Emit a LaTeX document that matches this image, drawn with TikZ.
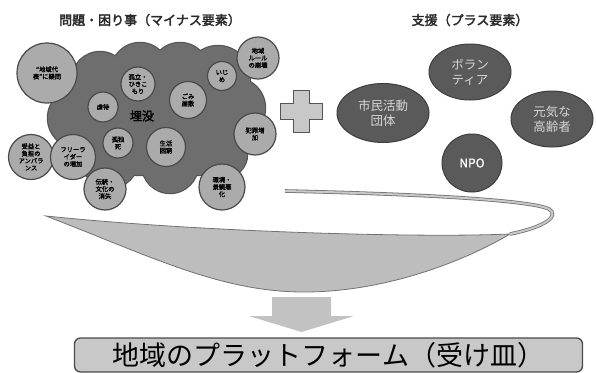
\documentclass[tikz,border=0pt]{standalone}
\usepackage{fontspec}
\setmainfont{Noto Sans CJK JP}
\newfontfamily\jpb[FakeBold=1.5]{Noto Sans CJK JP}
\newfontfamily\jpbb[FakeBold=2.5]{Noto Sans CJK JP}
\usetikzlibrary{shapes.geometric}
\definecolor{blob}{HTML}{6E6E6E}
\definecolor{blobline}{HTML}{555555}
\definecolor{issuefill}{HTML}{ABABAB}
\definecolor{issueline}{HTML}{4A4A4A}
\definecolor{ellfill}{HTML}{5A5A5A}
\definecolor{ellline}{HTML}{3E3E3E}
\definecolor{elltext}{HTML}{D6D6D6}
\definecolor{bowlfill}{HTML}{BDBDBD}
\definecolor{bowlline}{HTML}{727272}
\definecolor{boxfill}{HTML}{C8C8C8}
\definecolor{arrowfill}{HTML}{C2C2C2}
\definecolor{titlecol}{HTML}{2A2A2A}
\tikzset{
  issue/.style={circle, fill=issuefill, draw=issueline, line width=1.2pt,
    minimum size=#1, inner sep=0pt, align=center,
    font=\jpb\fontsize{6.3}{7.2}\selectfont},
  support/.style={ellipse, fill=ellfill, draw=ellline, line width=1pt,
    inner sep=0pt, align=center, text=elltext,
    font=\fontsize{12.5}{15}\selectfont},
  title/.style={text=titlecol, font=\jpbb\fontsize{13}{15}\selectfont}
}
\begin{document}
\begin{tikzpicture}[x=1pt,y=-1pt]
\useasboundingbox (0,0) rectangle (596,372);
\fill[white] (0,0) rectangle (596,372);

% titles
\node[title] (tminus) at (150,20) {問題・困り事（マイナス要素）};
\node[title] (tplus) at (470,20) {支援（プラス要素）};

% dark blob
\def\blobcircles{100/80/28, 140/72/29, 180/72/29, 218/78/32, 235/108/30,
  78/118/30, 140/125/50, 200/130/45, 170/165/28, 110/160/28, 225/155/22}
\foreach \x/\y/\r in \blobcircles \fill[blobline] (\x,\y) circle (\r pt+1.2pt);
\foreach \x/\y/\r in \blobcircles \fill[blob] (\x,\y) circle (\r pt);
\node[fill=blob, minimum size=7pt, inner sep=0pt] (sq) at (52,159) {};

\node[font=\jpbb\fontsize{12}{14}\selectfont] (maibotsu) at (142,116) {埋没};

% issue circles
\node[issue=60pt] (c1) at (47,73) {“地域代\\表”に疑問};
\node[issue=34pt] (c2) at (138,84) {孤立・\\ひきこ\\もり};
\node[issue=29pt] (c3) at (222,76) {いじ\\め};
\node[issue=42pt] (c4) at (258,58) {地域\\ルール\\の崩壊};
\node[issue=30pt] (c5) at (103,107) {虐待};
\node[issue=37pt] (c6) at (188,100) {ごみ\\屋敷};
\node[issue=30pt] (c7) at (118,143) {孤独\\死};
\node[issue=39pt] (c8) at (166,147) {生活\\困窮};
\node[issue=42pt] (c9) at (255,134) {犯罪増\\加};
\node[issue=45pt] (c10) at (31,157) {受益と\\負担の\\アンバラ\\ンス};
\node[issue=45pt] (c11) at (73,157) {フリーラ\\イダー\\の増加};
\node[issue=42pt] (c12) at (105,189) {伝統・\\文化の\\消失};
\node[issue=46pt] (c13) at (222,187) {環境・\\景観悪\\化};

% plus sign
\filldraw[fill=boxfill, draw=blobline, line width=1pt]
  (293,90) -- (309,90) -- (309,103) -- (322,103) -- (322,119) -- (309,119)
  -- (309,132) -- (293,132) -- (293,119) -- (280,119) -- (280,103) -- (293,103) -- cycle;

% support ellipses
\node[support, minimum width=92pt, minimum height=59pt] (s1) at (383,113) {市民活動\\団体};
\node[support, minimum width=82pt, minimum height=56pt] (s2) at (470,72) {ボラン\\ティア};
\node[support, minimum width=82pt, minimum height=56pt] (s3) at (552,119) {元気な\\高齢者};
\node[support, minimum width=60pt, minimum height=58pt, text=white,
  font=\jpb\fontsize{12}{14}\selectfont] (s4) at (472,163) {NPO};

% funnel bowl
\filldraw[fill=bowlfill, draw=bowlline, line width=0.8pt]
  (46,216) .. controls (200,232) and (420,238) .. (510,234)
  .. controls (470,258) and (390,292) .. (304,292)
  .. controls (220,292) and (150,256) .. (46,216) -- cycle;
% rim strip
\draw[draw=bowlline, double=boxfill, double distance=2pt, line width=0.8pt]
  (285,191) .. controls (420,194) and (530,200) .. (549,209)
  .. controls (560,216) and (545,227) .. (510,234);

% down arrow
\fill[arrowfill] (272,297) -- (331,297) -- (331,316) -- (354,316) -- (301.5,332)
  -- (249,316) -- (272,316) -- cycle;

% platform box
\node[draw=issueline, fill=boxfill, line width=1.3pt, rounded corners=6pt,
  minimum width=508pt, minimum height=34pt, inner sep=0pt,
  font=\fontsize{27}{30}\selectfont] (platform) at (328.5,355) {地域のプラットフォーム（受け皿）};
\end{tikzpicture}
\end{document}
